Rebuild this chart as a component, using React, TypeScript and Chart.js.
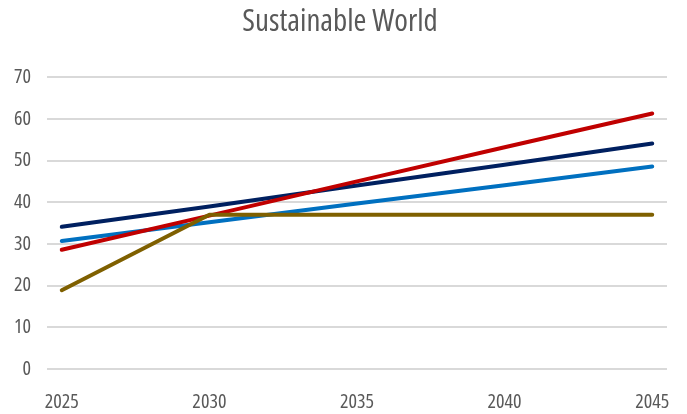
import React, { useEffect, useRef } from "react";
import { Chart, registerables } from "chart.js";

Chart.register(...registerables);

// Years with readings, and values for each scenario line
const years = [2025, 2030, 2035, 2040, 2045];
const navySeries = [34.1, 39, 44, 49, 54.1];
const blueSeries = [30.7, 35.2, 39.7, 44.1, 48.6];
const redSeries = [28.6, 36.8, 45, 53.2, 61.3];
const oliveSeries = [18.9, 37, 37, 37, 37];

const yTicks = [0, 10, 20, 30, 40, 50, 60, 70];
const titleText = "Sustainable World";

const FONT = "'Open Sans', 'DejaVu Sans Condensed', sans-serif";
const TEXT = "#595959";
// the weight slot also carries a font-stretch keyword for narrower glyphs
const NARROW = "normal condensed";

const toPoints = (vals: number[]) => years.map((x, i) => ({ x, y: vals[i] }));

export default function App() {
  const ref = useRef<HTMLCanvasElement | null>(null);

  useEffect(() => {
    document.body.style.margin = "0";
    const ctx = ref.current!.getContext("2d")!;
    const line = (data: number[], color: string) => ({
      data: toPoints(data),
      borderColor: color,
      backgroundColor: color,
      borderWidth: 4,
      borderCapStyle: "round" as const,
      borderJoinStyle: "round" as const,
      pointRadius: 0,
      tension: 0,
      fill: false,
    });
    const chart = new Chart(ctx, {
      type: "line",
      data: {
        // first dataset is painted last (on top)
        datasets: [
          line(oliveSeries, "#7F6000"),
          line(redSeries, "#C00000"),
          line(blueSeries, "#0070C0"),
          line(navySeries, "#002060"),
        ],
      },
      options: {
        animation: false,
        responsive: false,
        layout: { padding: { left: 13, right: 20, top: 0, bottom: 2 } },
        plugins: {
          legend: { display: false },
          tooltip: { enabled: false },
          title: {
            display: true,
            text: titleText,
            color: TEXT,
            font: { family: FONT, size: 31, weight: NARROW as any },
            padding: { top: 4, bottom: 36 },
          },
        },
        scales: {
          x: {
            type: "linear",
            min: years[0] - 0.5,
            max: years[years.length - 1] + 0.5,
            afterFit: (s: any) => {
              s.height = 43;
            },
            grid: { display: false },
            border: { display: false },
            ticks: {
              stepSize: 5,
              includeBounds: false,
              maxRotation: 0,
              color: TEXT,
              font: { family: FONT, size: 20, weight: NARROW as any },
              padding: 13,
              callback: (v: any) => String(v),
            },
          },
          y: {
            min: yTicks[0],
            max: yTicks[yTicks.length - 1],
            afterFit: (s: any) => {
              s.width = 34;
            },
            afterBuildTicks: (s: any) => {
              s.ticks = yTicks.map((value) => ({ value }));
            },
            grid: { color: "#d9d9d9", lineWidth: 2, drawTicks: false },
            border: { display: false },
            ticks: {
              color: TEXT,
              font: { family: FONT, size: 20, weight: NARROW as any },
              padding: 16,
            },
          },
        },
      },
    });
    return () => chart.destroy();
  }, []);

  return (
    <div style={{ width: 687, height: 414, background: "#fff" }}>
      <canvas ref={ref} width={687} height={414} />
    </div>
  );
}
